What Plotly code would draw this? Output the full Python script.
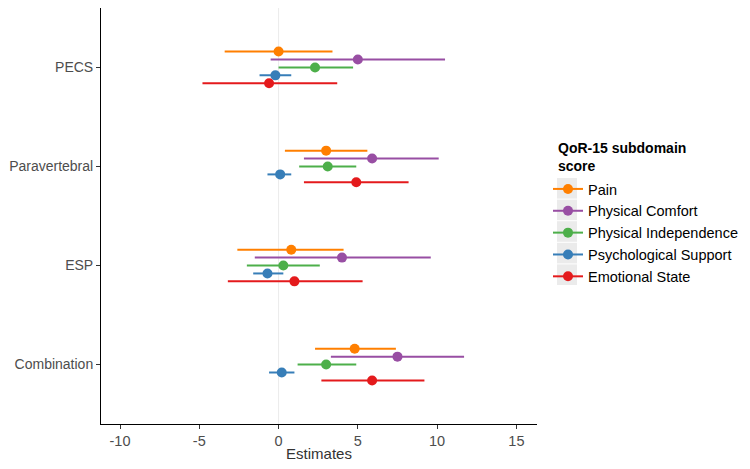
import plotly.graph_objects as go

categories = ["PECS", "Paravertebral", "ESP", "Combination"]
series = ["Pain", "Physical Comfort", "Physical Independence", "Psychological Support", "Emotional State"]
colors = ["#FF7F00", "#984EA3", "#4DAF4A", "#377EB8", "#E41A1C"]

# estimates per series, in category order
est_pain = [0.0, 3.0, 0.8, 4.8]
est_comfort = [5.0, 5.9, 4.0, 7.5]
est_indep = [2.3, 3.1, 0.3, 3.0]
est_psych = [-0.2, 0.1, -0.7, 0.2]
est_emot = [-0.6, 4.9, 1.0, 5.9]

lo_pain = [-3.4, 0.4, -2.6, 2.3]
hi_pain = [3.4, 5.6, 4.1, 7.4]
lo_comfort = [-0.5, 1.6, -1.5, 3.3]
hi_comfort = [10.5, 10.1, 9.6, 11.7]
lo_indep = [0.0, 1.3, -2.0, 1.2]
hi_indep = [4.7, 4.9, 2.6, 4.9]
lo_psych = [-1.2, -0.7, -1.6, -0.6]
hi_psych = [0.8, 0.8, 0.3, 1.0]
lo_emot = [-4.8, 1.6, -3.2, 2.7]
hi_emot = [3.7, 8.2, 5.3, 9.2]

ests = [est_pain, est_comfort, est_indep, est_psych, est_emot]
los = [lo_pain, lo_comfort, lo_indep, lo_psych, lo_emot]
his = [hi_pain, hi_comfort, hi_indep, hi_psych, hi_emot]

x_ticks = [-10, -5, 0, 5, 10, 15]
x_ticktext = ["-10", "-5", "0", "5", "10", "15"]
legend_title = "QoR-15 subdomain<br>score"

n_cat = len(categories)
base_y = [n_cat - i for i in range(n_cat)]
dodge = 0.08

# figure geometry (the page body adds an 8px offset)
OFF = 8
W, H = 742, 461
ML, MR, MT, MB = 93, 213, 0, 45
PW, PH = W - ML - MR, H - MT - MB

def px_x(p):
    return (p - OFF - ML) / PW

def px_y(p):
    return (H - MB - (p - OFF)) / PH

fig = go.Figure()

fig.add_shape(type="line", x0=0, x1=0, y0=0, y1=1, xref="x", yref="paper",
              line=dict(color="#EBEBEB", width=1), layer="below")

# legend key backgrounds
key_top = 177.5
key_h = 21.6
for s in range(len(series)):
    fig.add_shape(type="rect", xref="paper", yref="paper",
                  x0=px_x(557), x1=px_x(577),
                  y0=px_y(key_top + s * key_h + key_h - 0.5), y1=px_y(key_top + s * key_h + 0.5),
                  fillcolor="#EBEBEB", line=dict(width=0), layer="below")

for s, name in enumerate(series):
    off = (2 - s) * dodge
    ys = [b + off for b in base_y]
    lx, ly = [], []
    mx, my = [], []
    for i in range(n_cat):
        lx += [los[s][i], his[s][i], None]
        ly += [ys[i], ys[i], None]
        mx += [ests[s][i], None]
        my += [ys[i], None]
    fig.add_trace(go.Scatter(x=lx, y=ly, mode="lines", line=dict(color=colors[s], width=2),
                             legendgroup=name, showlegend=False, hoverinfo="skip"))
    fig.add_trace(go.Scatter(x=mx, y=my, mode="lines+markers", name=name,
                             line=dict(color=colors[s], width=2),
                             marker=dict(color=colors[s], size=10),
                             legendgroup=name, connectgaps=False))

fig.add_annotation(text="<b>" + legend_title + "</b>", xref="paper", yref="paper",
                   x=px_x(556), y=px_y(138), xanchor="left", yanchor="top", align="left",
                   showarrow=False, font=dict(size=14, color="black"))

fig.update_layout(
    width=W, height=H,
    margin=dict(l=ML, r=MR, t=MT, b=MB, autoexpand=False),
    plot_bgcolor="white", paper_bgcolor="white",
    font=dict(family="Liberation Sans, Arial, sans-serif", size=13, color="#4D4D4D"),
    xaxis=dict(range=[-11.2, 16.3], tickvals=x_ticks, ticktext=x_ticktext, showgrid=False, zeroline=False,
               showline=True, linecolor="black", linewidth=1, automargin=False,
               ticks="outside", ticklen=4, tickcolor="#333333",
               tickfont=dict(size=14.5, color="#4D4D4D"),
               title=dict(text="Estimates", font=dict(size=15, color="#333333"), standoff=0)),
    yaxis=dict(range=[0.4, 4.6], tickvals=base_y, ticktext=categories, showgrid=False,
               zeroline=False, showline=True, linecolor="black", linewidth=1, automargin=False,
               ticks="outside", ticklen=4, tickcolor="#333333",
               tickfont=dict(size=14, color="#4D4D4D")),
    legend=dict(x=px_x(548), y=px_y(173), xanchor="left", yanchor="top",
                font=dict(size=14.5, color="black"), itemwidth=30, tracegroupgap=0,
                bgcolor="rgba(0,0,0,0)"),
    showlegend=True,
)

fig.write_html("out.html")
